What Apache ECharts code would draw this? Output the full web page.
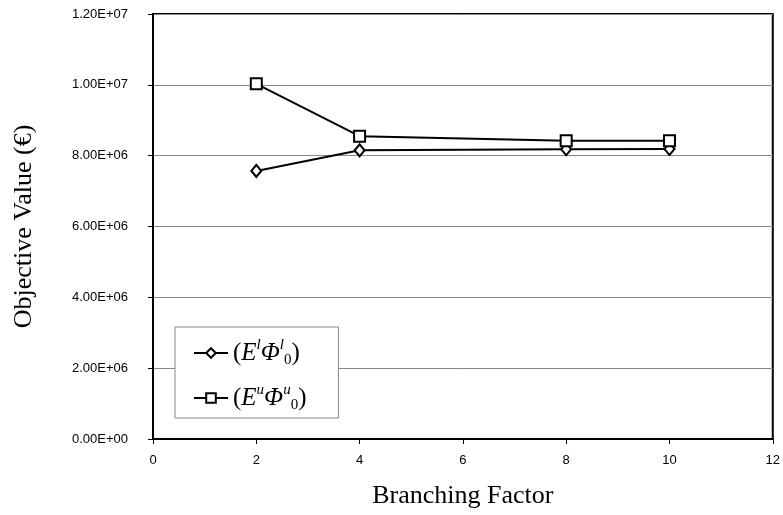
<!DOCTYPE html>
<html>
<head>
<meta charset="utf-8">
<script src="https://cdn.jsdelivr.net/npm/echarts@6/dist/echarts.min.js"></script>
<style>
  html, body { margin: 0; padding: 0; background: #fff; }
  #chart { width: 783px; height: 515px; }
</style>
</head>
<body>
<div id="chart"></div>
<script>
// Branching factors evaluated
const branching = [2, 4, 8, 10];
// Objective values for the lower (E^l Phi_0^l) and upper (E^u Phi_0^u) bounds
const lowerBound = [7.57e6, 8.15e6, 8.18e6, 8.19e6];
const upperBound = [1.003e7, 8.55e6, 8.42e6, 8.42e6];
// Y-axis tick labels in scientific notation
const yTickLabels = ['0.00E+00', '2.00E+06', '4.00E+06', '6.00E+06', '8.00E+06', '1.00E+07', '1.20E+07'];
const xTickLabels = ['0', '2', '4', '6', '8', '10', '12'];

const serif = '"Liberation Serif", "DejaVu Serif", serif';
const sans = '"Liberation Sans", Arial, sans-serif';

const legendText = {
  lower: '{b|(}{i|E}{s|l}{i|Φ}{s|l}{d|0}{b|)}',
  upper: '{b|(}{i|E}{s|u}{i|Φ}{s|u}{d|0}{b|)}'
};

const chart = echarts.init(document.getElementById('chart'));
chart.setOption({
  animation: false,
  backgroundColor: '#fff',
  grid: { left: 153, right: 9, top: 14, bottom: 76, show: true, borderColor: '#000', borderWidth: 2 },
  xAxis: {
    type: 'value', min: 0, max: 12, interval: 2,
    name: 'Branching Factor', nameLocation: 'middle', nameGap: 44,
    nameTextStyle: { fontFamily: serif, fontSize: 26, color: '#000' },
    axisLine: { show: true, lineStyle: { color: '#000', width: 2 } },
    axisTick: { show: true, length: 5, lineStyle: { color: '#000' } },
    axisLabel: { margin: 15, fontFamily: sans, fontSize: 13, color: '#000',
      formatter: v => xTickLabels[Math.round(v / 2)] },
    splitLine: { show: false }
  },
  yAxis: {
    type: 'value', min: 0, max: 1.2e7, interval: 2e6,
    name: 'Objective Value (€)', nameLocation: 'middle', nameGap: 116,
    nameTextStyle: { fontFamily: serif, fontSize: 26, color: '#000' },
    axisLine: { show: true, lineStyle: { color: '#000', width: 2 } },
    axisTick: { show: true, length: 5, lineStyle: { color: '#000' } },
    axisLabel: { margin: 25, fontFamily: sans, fontSize: 13, color: '#000',
      formatter: v => yTickLabels[Math.round(v / 2e6)] },
    splitLine: { show: true, lineStyle: { color: '#888', width: 1 } }
  },
  legend: {
    orient: 'vertical', left: 175, top: 327,
    backgroundColor: '#fff', borderColor: '#888', borderWidth: 1,
    padding: [11, 32, 5, 18], itemGap: 15, itemWidth: 34, itemHeight: 12,
    data: ['lower', 'upper'],
    formatter: name => legendText[name],
    textStyle: {
      color: '#000',
      rich: {
        b: { fontFamily: serif, fontSize: 25, lineHeight: 30, color: '#000' },
        i: { fontFamily: serif, fontStyle: 'italic', fontSize: 25, lineHeight: 30, color: '#000' },
        s: { fontFamily: serif, fontStyle: 'italic', fontSize: 15, lineHeight: 16, verticalAlign: 'top', color: '#000' },
        d: { fontFamily: serif, fontSize: 15, lineHeight: 14, verticalAlign: 'bottom', color: '#000' }
      }
    }
  },
  series: [
    {
      name: 'lower', type: 'line',
      data: branching.map((x, i) => [x, lowerBound[i]]),
      symbol: 'diamond', symbolSize: [10, 12], showAllSymbol: true,
      lineStyle: { color: '#000', width: 2 },
      itemStyle: { color: '#fff', borderColor: '#000', borderWidth: 2 },
      z: 3
    },
    {
      name: 'upper', type: 'line',
      data: branching.map((x, i) => [x, upperBound[i]]),
      symbol: 'rect', symbolSize: 11, showAllSymbol: true,
      lineStyle: { color: '#000', width: 2 },
      itemStyle: { color: '#fff', borderColor: '#000', borderWidth: 2 },
      z: 4
    }
  ]
});
</script>
</body>
</html>
